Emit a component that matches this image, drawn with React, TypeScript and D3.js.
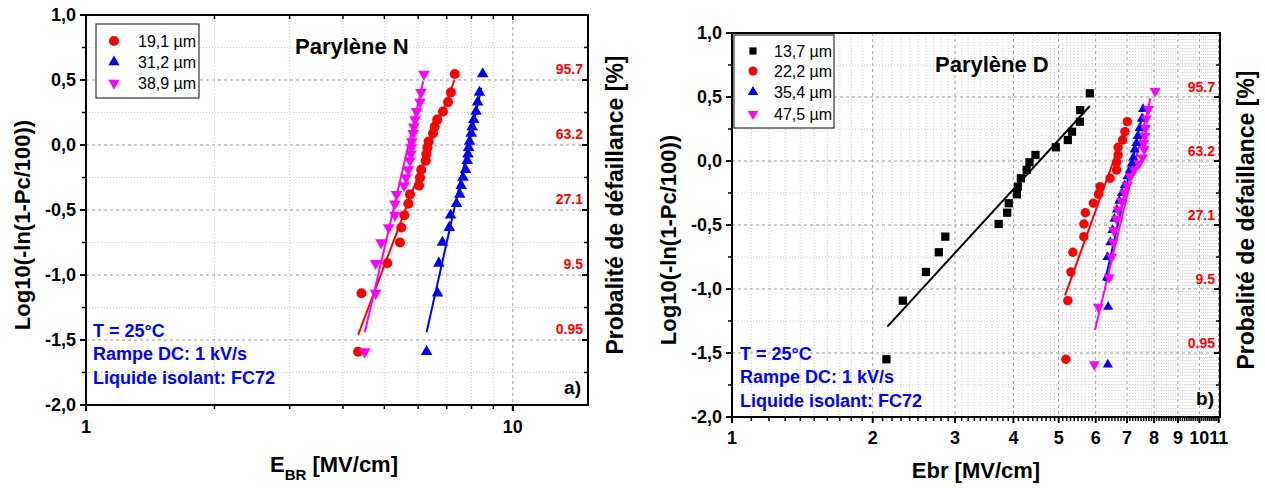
import React from 'react';
import * as d3 from 'd3';

const FONT = '"Liberation Sans", Arial, Helvetica, sans-serif';

// ---------- Panel a) Parylène N ----------
const rankN = [-1.59, -1.14, -0.91, -0.75, -0.635, -0.54, -0.452, -0.38, -0.312, -0.25, -0.19, -0.12, -0.07, -0.02, 0.027, 0.09, 0.14, 0.195, 0.258, 0.33, 0.405, 0.546];
const ebrN191 = [4.34, 4.42, 5.08, 5.44, 5.48, 5.57, 5.69, 5.74, 6.03, 6.06, 6.10, 6.25, 6.27, 6.31, 6.35, 6.50, 6.56, 6.65, 6.86, 7.05, 7.16, 7.31];
const ebrN312 = [6.28, 6.66, 6.71, 6.84, 7.10, 7.15, 7.38, 7.51, 7.57, 7.64, 7.75, 7.82, 7.85, 7.88, 7.92, 7.99, 8.03, 8.10, 8.20, 8.27, 8.35, 8.50];
const ebrN389 = [4.50, 4.77, 4.77, 4.91, 5.12, 5.29, 5.29, 5.34, 5.56, 5.62, 5.69, 5.74, 5.77, 5.78, 5.80, 5.84, 5.86, 5.90, 5.95, 6.06, 6.09, 6.19];
const fitN191 = [[4.34, -1.46], [7.3, 0.5]];
const fitN312 = [[6.28, -1.44], [8.44, 0.44]];
const fitN389 = [[4.5, -1.44], [6.17, 0.49]];
const labelsN = ['19,1 µm', '31,2 µm', '38,9 µm'];

// ---------- Panel b) Parylène D ----------
const rankD = [-1.549, -1.091, -0.867, -0.713, -0.591, -0.492, -0.404, -0.33, -0.26, -0.2, -0.135, -0.07, -0.01, 0.047, 0.107, 0.164, 0.229, 0.307, 0.398, 0.529];
const ebrD137 = [2.14, 2.32, 2.60, 2.77, 2.86, 3.72, 3.88, 3.91, 4.07, 4.09, 4.15, 4.27, 4.33, 4.46, 4.93, 5.23, 5.34, 5.55, 5.56, 5.83];
const ebrD222 = [5.18, 5.23, 5.31, 5.36, 5.66, 5.66, 5.70, 5.93, 6.08, 6.13, 6.44, 6.65, 6.65, 6.70, 6.70, 6.85, 6.93, 7.01];
const ebrD354 = [6.37, 6.38, 6.34, 6.36, 6.45, 6.52, 6.58, 6.66, 6.74, 6.83, 6.92, 7.02, 7.10, 7.17, 7.22, 7.27, 7.33, 7.38, 7.45, 7.53, 7.58];
const ebrD475 = [5.96, 6.08, 6.41, 6.49, 6.54, 6.56, 6.65, 6.70, 6.82, 6.92, 7.00, 7.11, 7.25, 7.42, 7.55, 7.62, 7.60, 7.65, 7.67, 7.70, 7.78, 8.04];
const fitD137 = [[2.15, -1.294], [5.83, 0.43]];
const fitD222 = [[5.16, -1.05], [6.95, 0.26]];
const fitD354 = [[6.28, -0.94], [7.57, 0.37]];
const fitD475 = [[5.98, -1.32], [7.86, 0.49]];
const labelsD = ['13,7 µm', '22,2 µm', '35,4 µm', '47,5 µm'];

// ---------- shared ----------
const yTicks = [-2, -1.5, -1, -0.5, 0, 0.5, 1];
const yMinorTicks = [-1.75, -1.25, -0.75, -0.25, 0.25, 0.75];
const probValues = [0.5, 0, -0.5, -1, -1.5];
const probLabels = ['95.7', '63.2', '27.1', '9.5', '0.95'];
const notes = ['T = 25°C', 'Rampe DC: 1 kV/s', 'Liquide isolant: FC72'];

type Shape = 'circle' | 'tri' | 'itri' | 'square';
interface Series { xs: number[]; ys: number[]; fit: number[][]; color: string; shape: Shape; size: number; label: string; legendSize: number; }

function Marker({ shape, size, color, x, y }: { shape: Shape; size: number; color: string; x: number; y: number }) {
  const type = shape === 'circle' ? d3.symbolCircle : shape === 'square' ? d3.symbolSquare : d3.symbolTriangle;
  const d = d3.symbol().type(type).size(size)() as string;
  const rot = shape === 'itri' ? ' rotate(180)' : '';
  return <path d={d} transform={`translate(${x},${y})${rot}`} fill={color} />;
}

interface PanelProps {
  xDomain: [number, number]; xRange: [number, number]; yRange: [number, number];
  xMajorGrid: number[]; xMinorGrid: number[]; xMajorTicks: number[]; xMinorTicks: number[]; xLabels: number[];
  series: Series[];
  legend: { x0: number; y0: number; x1: number; y1: number; mx: number; tx: number; rows: number[] };
  title: string; titleX: number; titleY: number;
  noteX: number; noteY: number[];
  tag: string; tagX: number; tagY: number;
  xTitle: React.ReactNode; xTitleX: number; xTitleY: number;
  yTitleX: number; yTitleY: number; y2TitleX: number; y2TitleY: number;
  xLabelY: number; topTicks: boolean; probDy: number;
}

function Panel(p: PanelProps) {
  const x = d3.scaleLog().domain(p.xDomain).range(p.xRange);
  const y = d3.scaleLinear().domain([-2, 1]).range(p.yRange);
  const [L, R] = p.xRange;
  const [B, T] = p.yRange;
  const line = d3.line<number[]>().x(d => x(d[0])).y(d => y(d[1]));
  return (
    <g>
      {p.xMinorGrid.map((v, i) => <line key={'xm' + i} x1={x(v)} x2={x(v)} y1={T} y2={B} stroke="#cfcfcf" strokeWidth={1} strokeDasharray="1,2" />)}
      {yMinorTicks.map((v, i) => <line key={'ym' + i} x1={L} x2={R} y1={y(v)} y2={y(v)} stroke="#cfcfcf" strokeWidth={1} strokeDasharray="1,2" />)}
      {p.xMajorGrid.map((v, i) => <line key={'xg' + i} x1={x(v)} x2={x(v)} y1={T} y2={B} stroke="#9a9a9a" strokeWidth={1} strokeDasharray="3,3" />)}
      {yTicks.slice(1, -1).map((v, i) => <line key={'yg' + i} x1={L} x2={R} y1={y(v)} y2={y(v)} stroke="#9a9a9a" strokeWidth={1} strokeDasharray="3,3" />)}

      {p.series.map((s, i) => <path key={'f' + i} d={line(s.fit) as string} stroke={s.color} strokeWidth={2} fill="none" />)}
      {p.series.map((s, i) => (
        <g key={'s' + i}>
          {s.xs.map((v, j) => <Marker key={j} shape={s.shape} size={s.size} color={s.color} x={x(v)} y={y(s.ys[j])} />)}
        </g>
      ))}

      <rect x={L} y={T} width={R - L} height={B - T} fill="none" stroke="#000" strokeWidth={2} />
      {yTicks.map((v, i) => <g key={'yt' + i}>
        <line x1={L - 6} x2={L} y1={y(v)} y2={y(v)} stroke="#000" strokeWidth={2} />
        <line x1={R - 6} x2={R} y1={y(v)} y2={y(v)} stroke="#000" strokeWidth={2} />
        <text x={L - 10} y={y(v)} dy="0.36em" textAnchor="end" fontFamily={FONT} fontWeight="bold" fontSize={18}>{v.toFixed(1).replace('.', ',')}</text>
      </g>)}
      {yMinorTicks.map((v, i) => <g key={'ymt' + i}>
        <line x1={L - 4} x2={L} y1={y(v)} y2={y(v)} stroke="#000" strokeWidth={1.5} />
        <line x1={R - 4} x2={R} y1={y(v)} y2={y(v)} stroke="#000" strokeWidth={1.5} />
      </g>)}
      {p.xMajorTicks.map((v, i) => <g key={'xt' + i}>
        <line x1={x(v)} x2={x(v)} y1={B} y2={B + 6} stroke="#000" strokeWidth={2} />
        {p.topTicks && <line x1={x(v)} x2={x(v)} y1={T} y2={T + 5} stroke="#000" strokeWidth={1.5} />}
      </g>)}
      {p.xMinorTicks.map((v, i) => <g key={'xmt' + i}>
        <line x1={x(v)} x2={x(v)} y1={B} y2={B + 4} stroke="#000" strokeWidth={1.5} />
        {p.topTicks && <line x1={x(v)} x2={x(v)} y1={T} y2={T + 4} stroke="#000" strokeWidth={1.5} />}
      </g>)}
      {p.xLabels.map((v, i) => <text key={'xl' + i} x={x(v)} y={p.xLabelY} textAnchor="middle" fontFamily={FONT} fontWeight="bold" fontSize={18}>{v}</text>)}

      {probValues.map((v, i) => <text key={'pl' + i} x={R - 5} y={y(v) - p.probDy} textAnchor="end" fontFamily={FONT} fontWeight="bold" fontSize={14} fill="#ff0000">{probLabels[i]}</text>)}

      <rect x={p.legend.x0} y={p.legend.y0} width={p.legend.x1 - p.legend.x0} height={p.legend.y1 - p.legend.y0} fill="#fff" stroke="#333" strokeWidth={1.2} />
      {p.series.map((s, i) => <g key={'lg' + i}>
        <Marker shape={s.shape} size={s.legendSize} color={s.color} x={p.legend.mx} y={p.legend.rows[i]} />
        <text x={p.legend.tx} y={p.legend.rows[i]} dy="0.36em" fontFamily={FONT} fontSize={16} fill="#000">{s.label}</text>
      </g>)}

      <text x={p.titleX} y={p.titleY} fontFamily={FONT} fontWeight="bold" fontSize={22}>{p.title}</text>
      {notes.map((t, i) => <text key={'n' + i} x={p.noteX} y={p.noteY[i]} fontFamily={FONT} fontWeight="bold" fontSize={18} fill="#0000ff">{t}</text>)}
      <text x={p.tagX} y={p.tagY} textAnchor="end" fontFamily={FONT} fontWeight="bold" fontSize={19}>{p.tag}</text>

      <text x={p.xTitleX} y={p.xTitleY} textAnchor="middle" fontFamily={FONT} fontWeight="bold" fontSize={22}>{p.xTitle}</text>
      <text transform={`translate(${p.yTitleX},${p.yTitleY}) rotate(-90)`} textAnchor="middle" dy="0.36em" fontFamily={FONT} fontWeight="bold" fontSize={22}>Log10(-ln(1-Pc/100))</text>
      <text transform={`translate(${p.y2TitleX},${p.y2TitleY}) rotate(-90)`} textAnchor="middle" dy="0.36em" fontFamily={FONT} fontWeight="bold" fontSize={23}>Probalité de défaillance [%]</text>
    </g>
  );
}

export default function App() {
  const seriesN: Series[] = [
    { xs: ebrN191, ys: rankN, fit: fitN191, color: '#ff0000', shape: 'circle', size: 80, label: labelsN[0], legendSize: 80 },
    { xs: ebrN312, ys: rankN, fit: fitN312, color: '#0000ff', shape: 'tri', size: 58, label: labelsN[1], legendSize: 55 },
    { xs: ebrN389, ys: rankN, fit: fitN389, color: '#ff00ff', shape: 'itri', size: 58, label: labelsN[2], legendSize: 55 },
  ];
  const seriesD: Series[] = [
    { xs: ebrD137, ys: rankD, fit: fitD137, color: '#000000', shape: 'square', size: 68, label: labelsD[0], legendSize: 52 },
    { xs: ebrD222, ys: rankD.slice(0, ebrD222.length), fit: fitD222, color: '#ff0000', shape: 'circle', size: 70, label: labelsD[1], legendSize: 64 },
    { xs: ebrD354, ys: rankN.slice(0, ebrD354.length), fit: fitD354, color: '#0000ff', shape: 'tri', size: 44, label: labelsD[2], legendSize: 48 },
    { xs: ebrD475, ys: rankN, fit: fitD475, color: '#ff00ff', shape: 'itri', size: 52, label: labelsD[3], legendSize: 48 },
  ];
  const minorD: number[] = [];
  for (let k = 1; k <= 10; k++) for (let j = 1; j <= 9; j++) { const v = +(k + j / 10).toFixed(1); if (v < 11.07) minorD.push(v); }
  return (
    <svg width={1265} height={488} style={{ position: 'absolute', left: 0, top: 0, background: '#fff' }}>
      <rect width={1265} height={488} fill="#fff" />
      <Panel
        xDomain={[1, 15]} xRange={[86, 588]} yRange={[405, 15]}
        xMajorGrid={[10]} xMinorGrid={[2, 3, 4, 5, 6, 7, 8, 9]} xMajorTicks={[1, 10]} xMinorTicks={[2, 3, 4, 5, 6, 7, 8, 9]} xLabels={[1, 10]}
        series={seriesN}
        legend={{ x0: 96, y0: 24, x1: 199, y1: 98, mx: 114, tx: 138, rows: [41, 62, 83] }}
        title="Parylène N" titleX={295} titleY={54}
        noteX={93} noteY={[337, 360, 384]}
        tag="a)" tagX={581} tagY={394}
        xTitle={<><tspan>E</tspan><tspan fontSize={15} dy={8}>BR</tspan><tspan dy={-8}> [MV/cm]</tspan></>} xTitleX={334} xTitleY={472}
        yTitleX={22} yTitleY={225} y2TitleX={615} y2TitleY={205}
        xLabelY={433} topTicks={true} probDy={6}
      />
      <Panel
        xDomain={[1, 11.07]} xRange={[732, 1220]} yRange={[417, 33]}
        xMajorGrid={[2, 3, 4, 5, 6, 7, 8, 9, 10, 11]} xMinorGrid={minorD} xMajorTicks={[1, 2, 3, 4, 5, 6, 7, 8, 9, 10, 11]} xMinorTicks={minorD} xLabels={[1, 2, 3, 4, 5, 6, 7, 8, 9, 10, 11]}
        series={seriesD}
        legend={{ x0: 734, y0: 35, x1: 834, y1: 128, mx: 753, tx: 774, rows: [51, 71, 92, 114] }}
        title="Parylène D" titleX={935} titleY={72}
        noteX={740} noteY={[360, 383, 407]}
        tag="b)" tagX={1214} tagY={405}
        xTitle={<tspan>Ebr [MV/cm]</tspan>} xTitleX={976} xTitleY={478}
        yTitleX={668} yTitleY={240} y2TitleX={1246} y2TitleY={220}
        xLabelY={444} topTicks={false} probDy={5}
      />
    </svg>
  );
}
